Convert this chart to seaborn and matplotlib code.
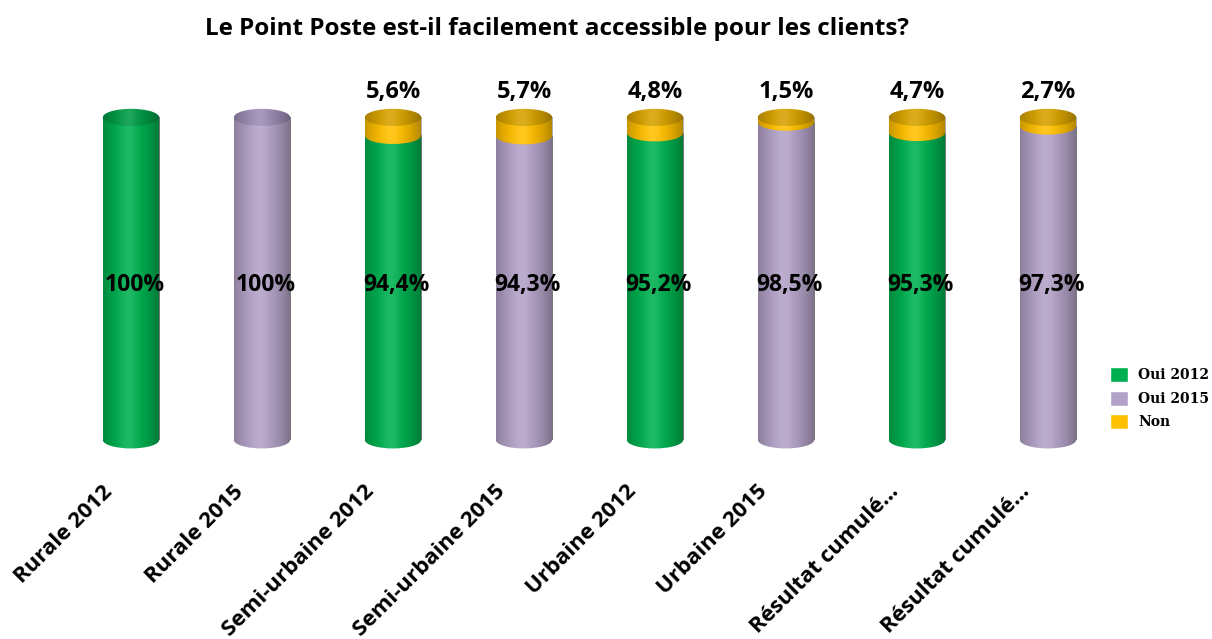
import numpy as np
import pandas as pd
import matplotlib.pyplot as plt
import seaborn as sns
from matplotlib.patches import Ellipse, Patch
from matplotlib.transforms import ScaledTranslation

# data
CATEGORIES = [
    "Rurale 2012",
    "Rurale 2015",
    "Semi-urbaine 2012",
    "Semi-urbaine 2015",
    "Urbaine 2012",
    "Urbaine 2015",
    "Résultat cumulé 2012",
    "Résultat cumulé 2015",
]
TICK_LABELS = [
    "Rurale 2012",
    "Rurale 2015",
    "Semi-urbaine 2012",
    "Semi-urbaine 2015",
    "Urbaine 2012",
    "Urbaine 2015",
    "Résultat cumulé…",
    "Résultat cumulé…",
]
SERIES = ["Oui 2012", "Oui 2015"] * 4
OUI = [100.0, 100.0, 94.4, 94.3, 95.2, 98.5, 95.3, 97.3]
NON = [0.0, 0.0, 5.6, 5.7, 4.8, 1.5, 4.7, 2.7]

GREEN = "#00b050"
PURPLE = "#b3a2c7"
GOLD = "#ffc000"
TOP_COLORS = {"Oui 2012": "#009a46", "Oui 2015": "#9c8cb4", "Non": "#d6a200"}
PALETTE = {"Oui 2012": GREEN, "Oui 2015": PURPLE}

BAR_W = 0.43
ELL_H = 5.3
LABEL_FONT = ["Open Sans", "DejaVu Sans"]


def fmt_pct(v):
    if v == 100:
        return "100%"
    return f"{v:.1f}".replace(".", ",") + "%"


def shade(ax, patch, x0, x1, y0, y1, z):
    u = np.linspace(0, 1, 256)
    t = u - 0.45
    dark = np.zeros((1, 256, 4))
    dark[..., 3] = 0.32 * (np.abs(t) / 0.55) ** 1.8
    light = np.ones((1, 256, 4))
    light[..., 3] = 0.12 * np.exp(-((t / 0.16) ** 2))
    for img in (dark, light):
        im = ax.imshow(img, extent=[x0, x1, y0, y1], aspect="auto",
                       interpolation="bilinear", zorder=z)
        im.set_clip_path(patch)


def add_ellipse(ax, x, y, color, z):
    e = Ellipse((x, y), BAR_W, ELL_H, facecolor=color, edgecolor="none", zorder=z)
    ax.add_patch(e)
    shade(ax, e, x - BAR_W / 2, x + BAR_W / 2, y - ELL_H / 2, y + ELL_H / 2, z + 0.1)


df = pd.DataFrame({
    "cat": CATEGORIES,
    "serie": SERIES,
    "oui": OUI,
    "total": np.array(OUI) + np.array(NON),
})

sns.set_theme(style="white")
plt.rcParams["font.family"] = LABEL_FONT
plt.rcParams["text.color"] = "black"
plt.rcParams["xtick.color"] = "black"

fig = plt.figure(figsize=(12.12, 6.39), dpi=100)
ax = fig.add_axes([65.5 / 1212, 183 / 639, 1048 / 1212, 387 / 639])

sns.barplot(data=df, x="cat", y="total", color=GOLD, saturation=1,
            width=BAR_W, ax=ax, zorder=1, linewidth=0)
sns.barplot(data=df, x="cat", y="oui", hue="serie", palette=PALETTE,
            saturation=1, dodge=False, width=BAR_W, ax=ax, zorder=3,
            linewidth=0, legend=False)

# cylinder shading on the bar bodies
for p in list(ax.patches):
    x0, w, h = p.get_x(), p.get_width(), p.get_height()
    shade(ax, p, x0, x0 + w, 0, h, p.get_zorder() + 0.1)

# cylinder caps and value labels
for i, (s, oui, non) in enumerate(zip(SERIES, OUI, NON)):
    add_ellipse(ax, i, 0, PALETTE[s], 2)
    if non > 0:
        add_ellipse(ax, i, oui, GOLD, 4)
        add_ellipse(ax, i, oui + non, TOP_COLORS["Non"], 5)
        ax.text(i, oui + non + 7.8, fmt_pct(non), ha="center", va="center",
                fontsize=17, fontweight="bold", color="black")
    else:
        add_ellipse(ax, i, oui, TOP_COLORS[s], 5)
    ax.text(i + 0.03, 48, fmt_pct(oui), ha="center", va="center", fontsize=16.5,
            fontweight="bold", color="black", zorder=10)

ax.set_xlim(-0.5, 7.5)
ax.set_ylim(-5, 115)
ax.set_xlabel("")
ax.set_ylabel("")
ax.set_yticks([])
ax.set_xticks(range(len(TICK_LABELS)))
ax.set_xticklabels(TICK_LABELS, rotation=45, ha="right", rotation_mode="anchor",
                   fontsize=16, fontweight="bold", color="black")
ax.tick_params(axis="x", length=0, pad=18)
offset = ScaledTranslation(-0.29, 0, fig.dpi_scale_trans)
for lbl in ax.get_xticklabels():
    lbl.set_transform(lbl.get_transform() + offset)
sns.despine(ax=ax, left=True, bottom=True)

fig.text(557 / 1212, 1 - 29 / 639,
         "Le Point Poste est-il facilement accessible pour les clients?",
         ha="center", va="center", fontsize=17.5, fontweight="bold", color="black")

handles = [Patch(facecolor=GREEN), Patch(facecolor=PURPLE), Patch(facecolor=GOLD)]
fig.legend(handles, ["Oui 2012", "Oui 2015", "Non"], loc="upper left",
           bbox_to_anchor=(1110 / 1212, 1 - 367 / 639), frameon=False,
           prop={"family": "DejaVu Serif", "weight": "bold", "size": 10},
           handlelength=1.3, handleheight=1.3, handletextpad=0.75,
           labelspacing=0.6, borderaxespad=0, borderpad=0)

fig.savefig("out.png", dpi=100, facecolor="white")
